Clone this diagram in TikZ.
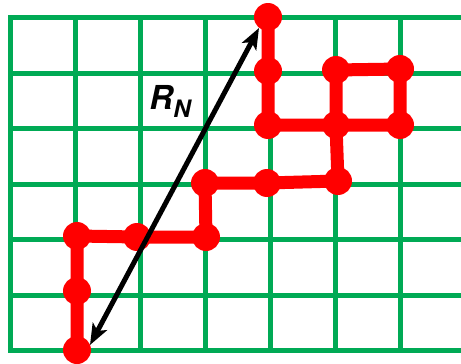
\documentclass[tikz,border=0pt]{standalone}
\usepackage{fontspec}
\newfontfamily\labelfont{TeX Gyre Heros}
\usetikzlibrary{arrows.meta,positioning,calc}
\definecolor{GridGreen}{HTML}{00AA55}
\definecolor{WalkRed}{HTML}{FF0000}

\begin{document}
\begin{tikzpicture}[
    x=1pt, y=-1pt,
    gridline/.style={draw=GridGreen, line width=5pt, line cap=rect},
    walkdot/.style={circle, fill=WalkRed, inner sep=0pt, minimum size=28pt},
    walkline/.style={draw=WalkRed, line width=13pt, line join=round},
    endarrow/.style={draw=black, line width=5pt, {Stealth[length=21pt,width=16pt,inset=5pt]}-{Stealth[length=21pt,width=16pt,inset=5pt]}}
]
  \useasboundingbox (0,0) rectangle (461,364);

  % =========================================================================
  % GRADE (LATTICE)
  % =========================================================================
  \foreach \i in {0,...,6}
    \draw[gridline] ({10.5+65.08*\i},17.5) -- ({10.5+65.08*\i},350.5);
  \foreach \j in {0,...,6}
    \draw[gridline] (10.5,{17.5+55.5*\j}) -- (463,{17.5+55.5*\j});

  % =========================================================================
  % PASSOS DO CAMINHO ALEATORIO
  % =========================================================================
  \node[walkdot] (sA) at (77,350) {};
  \node[walkdot] (sB) at (77,291) {};
  \node[walkdot] (sC) at (77,236) {};
  \node[walkdot] (sD) at (137,237) {};
  \node[walkdot] (sE) at (206,237) {};
  \node[walkdot] (sF) at (205,183) {};
  \node[walkdot] (sG) at (267,183) {};
  \node[walkdot] (sH) at (338,181) {};
  \node[walkdot] (sI) at (336,125) {};
  \node[walkdot] (sJ) at (268,125) {};
  \node[walkdot] (sK) at (268,71) {};
  \node[walkdot] (sL) at (268,17) {};
  \node[walkdot] (sM) at (336,70) {};
  \node[walkdot] (sN) at (400,69) {};
  \node[walkdot] (sO) at (400,125) {};

  \draw[walkline] (sA.center) -- (sB.center) -- (sC.center) -- (sD.center) -- (sE.center)
    -- (sF.center) -- (sG.center) -- (sH.center) -- (sI.center) -- (sO.center)
    -- (sN.center) -- (sM.center) -- (sI.center) -- (sJ.center) -- (sK.center) -- (sL.center);

  % =========================================================================
  % DISTANCIA PONTA A PONTA
  % =========================================================================
  \coordinate (tipBot) at (90,345);
  \coordinate (tipTop) at (259,28);
  \draw[endarrow] (tipBot) -- (tipTop);

  \node[inner sep=0pt, font=\labelfont\bfseries\itshape\fontsize{33}{33}\selectfont] (rn) at (170,101)
    {R\raisebox{-8pt}{\fontsize{24}{24}\selectfont N}};

\end{tikzpicture}
\end{document}
